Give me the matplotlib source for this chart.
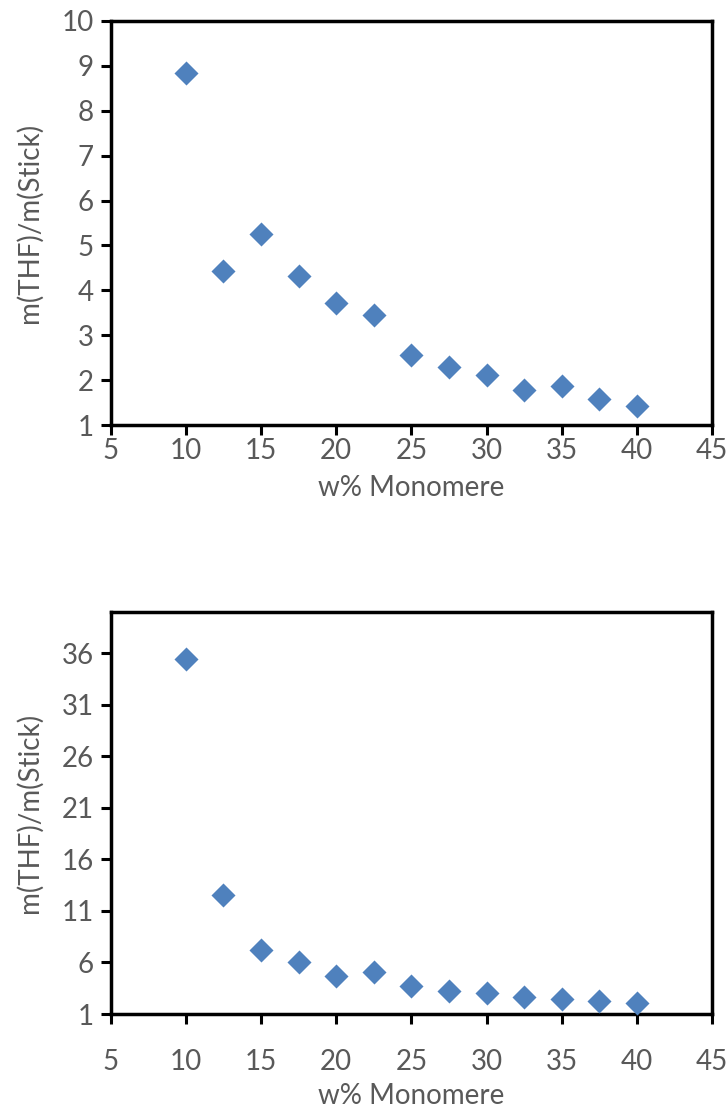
import matplotlib
matplotlib.use("Agg")
import matplotlib.pyplot as plt

x_vals = [10, 12.5, 15, 17.5, 20, 22.5, 25, 27.5, 30, 32.5, 35, 37.5, 40]
top_ratio = [8.84, 4.44, 5.25, 4.33, 3.72, 3.46, 2.56, 2.29, 2.11, 1.79, 1.86, 1.57, 1.42]
bottom_ratio = [35.47, 12.5, 7.2, 6.0, 4.7, 5.07, 3.7, 3.2, 3.0, 2.65, 2.45, 2.25, 2.05]

x_ticks = [5, 10, 15, 20, 25, 30, 35, 40, 45]
top_yticks = [1, 2, 3, 4, 5, 6, 7, 8, 9, 10]
bottom_yticks = [1, 6, 11, 16, 21, 26, 31, 36]

xlabel = "w% Monomere"
ylabel = "m(THF)/m(Stick)"

plt.rcParams['font.family'] = ['Lato', 'DejaVu Sans']
text_color = "#595959"
marker_color = "#4F81BD"

fig = plt.figure(figsize=(7.27, 11.17), dpi=100)
ax1 = fig.add_axes([0.1523, 0.6195, 0.9794 - 0.1523, 0.9812 - 0.6195])
ax2 = fig.add_axes([0.1523, 0.0922, 0.9794 - 0.1523, 0.4521 - 0.0922])

for ax, yv, yt, ylim, xpad, xlpad in [(ax1, top_ratio, top_yticks, (1, 10), 2, 8),
                                      (ax2, bottom_ratio, bottom_yticks, (1, 40), 18, 6)]:
    ax.scatter(x_vals, yv, marker='D', s=150, color=marker_color, linewidths=0, zorder=3, clip_on=False)
    ax.set_xlim(5, 45)
    ax.set_ylim(*ylim)
    ax.set_xticks(x_ticks)
    ax.set_yticks(yt)
    for sp in ax.spines.values():
        sp.set_linewidth(2.5)
        sp.set_color("black")
    ax.tick_params(direction='out', length=7, width=2.2, color='black',
                   labelsize=20, labelcolor=text_color)
    ax.tick_params(axis='x', pad=xpad)
    ax.tick_params(axis='y', pad=5)
    ax.set_xlabel(xlabel, fontsize=20, color=text_color, labelpad=xlpad)
    ax.set_ylabel(ylabel, fontsize=20, color=text_color, labelpad=14)

fig.savefig("out.png", dpi=100)
